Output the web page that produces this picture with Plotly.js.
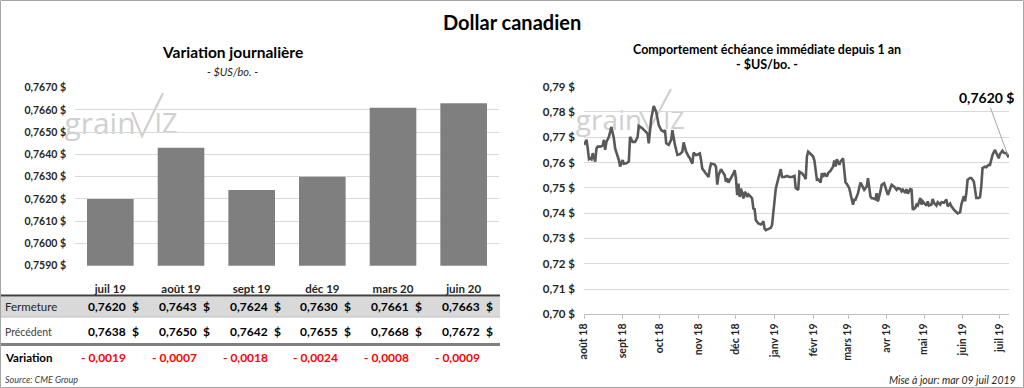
<!DOCTYPE html>
<html><head><meta charset="utf-8">
<script src="https://cdn.plot.ly/plotly-3.0.1.min.js"></script>
<style>html,body{margin:0;padding:0;background:#fff;}#chart{width:1024px;height:388px;}</style>
</head><body><div id="chart"></div>
<script>
// ---------- data ----------
const contracts = ['juil 19','août 19','sept 19','déc 19','mars 20','juin 20'];
const closeValues = [0.7620,0.7643,0.7624,0.7630,0.7661,0.7663];
const previousValues = [0.7638,0.7650,0.7642,0.7655,0.7668,0.7672];
const changeValues = [-0.0019,-0.0007,-0.0018,-0.0024,-0.0008,-0.0009];
const barTickVals = [0.7590,0.7600,0.7610,0.7620,0.7630,0.7640,0.7650,0.7660,0.7670];
const lineTickVals = [0.70,0.71,0.72,0.73,0.74,0.75,0.76,0.77,0.78,0.79];
const rowLabels = ['Fermeture','Précédent','Variation'];

const historyDates = [
'2018-08-01','2018-08-03','2018-08-04','2018-08-05','2018-08-06','2018-08-07','2018-08-08','2018-08-10','2018-08-11','2018-08-12',
'2018-08-14','2018-08-16','2018-08-17','2018-08-18','2018-08-19','2018-08-21','2018-08-23','2018-08-25','2018-08-26','2018-08-29',
'2018-08-30','2018-09-01','2018-09-02','2018-09-04','2018-09-06','2018-09-07','2018-09-09','2018-09-11','2018-09-13','2018-09-14',
'2018-09-17','2018-09-19','2018-09-21','2018-09-22','2018-09-24','2018-09-26','2018-09-28','2018-09-30','2018-10-02','2018-10-04',
'2018-10-05','2018-10-06','2018-10-08','2018-10-10','2018-10-11','2018-10-13','2018-10-15','2018-10-17','2018-10-19','2018-10-20',
'2018-10-22','2018-10-24','2018-10-25','2018-10-27','2018-10-28','2018-10-30','2018-10-31','2018-11-02','2018-11-03','2018-11-04',
'2018-11-06','2018-11-07','2018-11-09','2018-11-10','2018-11-11','2018-11-14','2018-11-15','2018-11-16','2018-11-17','2018-11-19',
'2018-11-20','2018-11-22','2018-11-23','2018-11-24','2018-11-25','2018-11-27','2018-11-29','2018-11-30','2018-12-01','2018-12-02',
'2018-12-03','2018-12-04','2018-12-05','2018-12-06','2018-12-07','2018-12-08','2018-12-09','2018-12-10','2018-12-11','2018-12-13',
'2018-12-14','2018-12-15','2018-12-16','2018-12-17','2018-12-19','2018-12-21','2018-12-22','2018-12-23','2018-12-24','2018-12-25',
'2018-12-27','2018-12-29','2018-12-30','2018-12-31','2019-01-01','2019-01-02','2019-01-04','2019-01-06','2019-01-07','2019-01-09',
'2019-01-11','2019-01-13','2019-01-15','2019-01-17','2019-01-18','2019-01-20','2019-01-21','2019-01-23','2019-01-25','2019-01-26',
'2019-01-27','2019-01-28','2019-01-30','2019-02-01','2019-02-02','2019-02-03','2019-02-04','2019-02-05','2019-02-07','2019-02-08',
'2019-02-09','2019-02-10','2019-02-12','2019-02-13','2019-02-15','2019-02-17','2019-02-18','2019-02-19','2019-02-20','2019-02-22',
'2019-02-23','2019-02-25','2019-02-26','2019-02-27','2019-02-28','2019-03-02','2019-03-04','2019-03-05','2019-03-06','2019-03-07',
'2019-03-09','2019-03-11','2019-03-12','2019-03-13','2019-03-14','2019-03-16','2019-03-17','2019-03-19','2019-03-20','2019-03-21',
'2019-03-23','2019-03-24','2019-03-25','2019-03-27','2019-03-28','2019-03-30','2019-03-31','2019-04-02','2019-04-04','2019-04-05',
'2019-04-07','2019-04-09','2019-04-10','2019-04-12','2019-04-13','2019-04-14','2019-04-16','2019-04-17','2019-04-18','2019-04-20',
'2019-04-21','2019-04-22','2019-04-24','2019-04-25','2019-04-26','2019-04-28','2019-04-29','2019-04-30','2019-05-01','2019-05-03',
'2019-05-04','2019-05-05','2019-05-07','2019-05-08','2019-05-09','2019-05-11','2019-05-12','2019-05-14','2019-05-15','2019-05-17',
'2019-05-19','2019-05-20','2019-05-22','2019-05-23','2019-05-25','2019-05-27','2019-05-28','2019-05-30','2019-05-31','2019-06-02',
'2019-06-03','2019-06-04','2019-06-05','2019-06-07','2019-06-08','2019-06-10','2019-06-11','2019-06-12','2019-06-14','2019-06-15',
'2019-06-16','2019-06-17','2019-06-19','2019-06-20','2019-06-22','2019-06-23','2019-06-25','2019-06-27','2019-06-28','2019-06-30',
'2019-07-01','2019-07-03','2019-07-04','2019-07-06','2019-07-07','2019-07-08'];
const historyValues = [
0.7670,0.7690,0.7656,0.7614,0.7617,0.7613,0.7637,0.7604,0.7656,0.7663,
0.7663,0.7667,0.7690,0.7650,0.7682,0.7702,0.7741,0.7695,0.7656,0.7610,
0.7584,0.7610,0.7595,0.7597,0.7604,0.7702,0.7682,0.7682,0.7700,0.7745,
0.7735,0.7724,0.7715,0.7676,0.7774,0.7824,0.7800,0.7748,0.7728,0.7722,
0.7728,0.7676,0.7670,0.7690,0.7728,0.7670,0.7630,0.7633,0.7643,0.7680,
0.7643,0.7624,0.7617,0.7596,0.7639,0.7629,0.7632,0.7636,0.7609,0.7576,
0.7563,0.7557,0.7543,0.7576,0.7596,0.7592,0.7583,0.7513,0.7550,0.7574,
0.7566,0.7550,0.7524,0.7537,0.7521,0.7537,0.7557,0.7570,0.7537,0.7471,
0.7517,0.7464,0.7497,0.7478,0.7458,0.7484,0.7478,0.7464,0.7474,0.7464,
0.7458,0.7418,0.7416,0.7372,0.7359,0.7355,0.7359,0.7368,0.7339,0.7333,
0.7337,0.7342,0.7353,0.7405,0.7471,0.7497,0.7537,0.7574,0.7543,0.7543,
0.7547,0.7543,0.7543,0.7547,0.7499,0.7492,0.7564,0.7558,0.7545,0.7534,
0.7624,0.7643,0.7634,0.7624,0.7608,0.7558,0.7532,0.7534,0.7521,0.7558,
0.7542,0.7558,0.7545,0.7558,0.7568,0.7584,0.7608,0.7584,0.7613,0.7591,
0.7604,0.7617,0.7568,0.7521,0.7516,0.7499,0.7455,0.7433,0.7453,0.7453,
0.7479,0.7521,0.7512,0.7499,0.7492,0.7505,0.7538,0.7466,0.7459,0.7459,
0.7455,0.7479,0.7446,0.7486,0.7512,0.7518,0.7499,0.7472,0.7499,0.7512,
0.7505,0.7492,0.7499,0.7495,0.7486,0.7493,0.7480,0.7495,0.7477,0.7495,
0.7493,0.7414,0.7421,0.7434,0.7430,0.7460,0.7434,0.7447,0.7441,0.7430,
0.7447,0.7430,0.7434,0.7456,0.7441,0.7430,0.7443,0.7434,0.7443,0.7441,
0.7454,0.7427,0.7438,0.7427,0.7414,0.7404,0.7399,0.7404,0.7434,0.7467,
0.7447,0.7480,0.7532,0.7539,0.7539,0.7525,0.7486,0.7460,0.7460,0.7464,
0.7506,0.7578,0.7584,0.7582,0.7591,0.7591,0.7630,0.7650,0.7639,0.7617,
0.7634,0.7647,0.7639,0.7637,0.7630,0.7620];
const monthTicks = ['2018-08-01','2018-09-01','2018-10-01','2018-11-01','2018-12-01','2019-01-01',
                    '2019-02-01','2019-03-01','2019-04-01','2019-05-01','2019-06-01','2019-07-01'];
const monthLabels = ['août 18','sept 18','oct 18','nov 18','déc 18','janv 19',
                     'févr 19','mars 19','avr 19','mai 19','juin 19','juil 19'];

// ---------- helpers ----------
const W = 1024, H = 388;
const px = v => v / W;
const py = v => 1 - v / H;
const FONT = 'Lato, "Open Sans", sans-serif';
const fmtN = (v, d) => v.toFixed(d).replace('.', ',');
const fmt4 = v => fmtN(v, 4);
const fmtChange = v => (v < 0 ? '- ' : '') + fmt4(Math.abs(v));
const bold = s => '<b>' + s + '</b>';

// ---------- traces ----------
const traces = [
  {type:'bar', x:contracts, y:closeValues, xaxis:'x', yaxis:'y',
   marker:{color:'#7f7f7f'}, hoverinfo:'skip'},
  {type:'scatter', mode:'lines', x:historyDates, y:historyValues, xaxis:'x2', yaxis:'y2',
   line:{color:'#595959', width:2.6}, hoverinfo:'skip'}
];

// ---------- annotations ----------
const ann = [];
const txt = (x, y, text, size, opts) => Object.assign({
  xref:'paper', yref:'paper', x:px(x), y:py(y), text:text, showarrow:false,
  xanchor:'center', yanchor:'middle',
  font:{family:FONT, size:size, color:'#000'}}, opts || {});

ann.push(txt(512, 22, bold('Dollar canadien'), 20));
ann.push(txt(232, 52, bold('Variation journalière'), 15.5));
ann.push(txt(232, 71, '<i>- $US/bo. -</i>', 11, {font:{family:FONT, size:11, color:'#262626'}}));
ann.push(txt(767, 50, bold('Comportement échéance immédiate depuis 1 an'), 12.5));
ann.push(txt(767, 65, bold('- $US/bo. -'), 12.5));

// table
const rowY = [306.7, 331.7, 357.7];
ann.push(txt(3, rowY[0], rowLabels[0], 11.5, {xanchor:'left', font:{family:FONT, size:11.5, color:'#262626'}}));
ann.push(txt(3, rowY[1], rowLabels[1], 10.5, {xanchor:'left', font:{family:FONT, size:10.5, color:'#404040'}}));
ann.push(txt(3, rowY[2], bold(rowLabels[2]), 11.5, {xanchor:'left'}));
const rows = [closeValues, previousValues];
contracts.forEach((c, i) => {
  rows.forEach((arr, r) => {
    ann.push({xref:'x', yref:'paper', x:c, y:py(rowY[r]), xshift:18, xanchor:'right', yanchor:'middle',
      showarrow:false, text:bold(fmt4(arr[i])), font:{family:FONT, size:12, color:'#000'}});
    ann.push({xref:'x', yref:'paper', x:c, y:py(rowY[r]), xshift:20, xanchor:'left', yanchor:'middle',
      showarrow:false, text:bold('$'), font:{family:FONT, size:12, color:'#000'}});
  });
  ann.push({xref:'x', yref:'paper', x:c, y:py(rowY[2]), xshift:18, xanchor:'right', yanchor:'middle',
    showarrow:false, text:bold(fmtChange(changeValues[i])), font:{family:FONT, size:12, color:'#ff0000'}});
});
ann.push(txt(3, 379.5, '<i>Source: CME Group</i>', 9, {xanchor:'left', font:{family:FONT, size:9, color:'#404040'}}));
ann.push(txt(1018, 380, '<i>Mise à jour: mar 09 juil 2019</i>', 10.5, {xanchor:'right', font:{family:FONT, size:10.5, color:'#262626'}}));

// last value label
const lastIdx = historyValues.length - 1;
ann.push({xref:'x2', yref:'y2', x:historyDates[lastIdx], y:historyValues[lastIdx],
  text:bold(fmt4(historyValues[lastIdx]) + ' $'), showarrow:true, arrowhead:0, arrowwidth:1,
  arrowcolor:'#a6a6a6', ax:-22, ay:-60, standoff:3,
  font:{family:FONT, size:14, color:'#000'}});

// ---------- shapes ----------
const shapes = [
  {type:'rect', xref:'paper', yref:'paper', x0:px(0), x1:px(500), y0:py(317), y1:py(296.5),
   fillcolor:'#d9d9d9', line:{width:0}, layer:'below'},
  {type:'line', xref:'paper', yref:'paper', x0:px(0), x1:px(500), y0:py(295.5), y1:py(295.5),
   line:{color:'#404040', width:2}},
  {type:'line', xref:'paper', yref:'paper', x0:px(0), x1:px(500), y0:py(317), y1:py(317),
   line:{color:'#bfbfbf', width:1}},
  {type:'line', xref:'paper', yref:'paper', x0:px(0), x1:px(500), y0:py(344.5), y1:py(344.5),
   line:{color:'#808080', width:3}},
  {type:'rect', xref:'paper', yref:'paper', x0:px(0.5), x1:px(1023.5), y0:py(387.5), y1:py(0.5),
   line:{color:'#a6a6a6', width:1}},
];
const wm = (cx, cy, w, h, text, size) => ({type:'rect', xref:'paper', yref:'paper',
  x0:px(cx - w/2), x1:px(cx + w/2), y0:py(cy + h/2), y1:py(cy - h/2),
  line:{width:0}, fillcolor:'rgba(0,0,0,0)', layer:'below',
  label:{text:text, textposition:'middle center', font:{family:'"Open Sans", sans-serif', size:size, color:'#d0d0d0'}}});
const vPath = pts => ({type:'path', xref:'paper', yref:'paper', layer:'below',
  path:'M ' + pts.map(p => px(p[0]) + ',' + py(p[1])).join(' L '),
  line:{color:'#d0d0d0', width:2.2}});
shapes.push(wm(100, 124, 70, 30, 'grain', 30));
shapes.push(wm(166, 124, 30, 30, 'IZ', 27));
shapes.push(vPath([[132,112],[142,136],[163,93]]));
shapes.push(wm(609, 121, 66, 26, 'grain', 28));
shapes.push(wm(674, 121, 28, 26, 'IZ', 25));
shapes.push(vPath([[640,111],[649,130],[671,89]]));

// ---------- layout ----------
const tickFont = s => ({family:FONT, size:s, color:'#262626'});
const layout = {
  width:W, height:H, margin:{l:0, r:0, t:0, b:0},
  paper_bgcolor:'#fff', plot_bgcolor:'rgba(0,0,0,0)',
  showlegend:false, separators:', ', bargap:0.34,
  font:{family:FONT},
  xaxis:{domain:[px(75), px(499)], type:'category', anchor:'y',
    tickvals:contracts, ticktext:contracts.map(bold),
    tickfont:tickFont(11.5), ticks:'outside', ticklen:12, tickcolor:'rgba(0,0,0,0)',
    showgrid:false, showline:false, zeroline:false, fixedrange:true},
  yaxis:{domain:[py(265.7), py(87.7)], range:[0.7590, 0.7670], anchor:'x',
    tickvals:barTickVals, ticktext:barTickVals.map(v => bold(fmt4(v) + ' $')), tickfont:tickFont(10.5),
    gridcolor:'#d9d9d9', gridwidth:1, zeroline:false, showline:false, ticks:'', ticklabelstandoff:8, fixedrange:true},
  xaxis2:{domain:[px(584), px(1009)], type:'date', anchor:'y2',
    range:['2018-08-01', '2019-07-08 06:00'], tickvals:monthTicks, ticktext:monthLabels.map(bold),
    tickangle:-90, tickfont:tickFont(10.5), ticks:'outside', ticklen:4, tickcolor:'#bfbfbf',
    showline:true, linecolor:'#bfbfbf', linewidth:1, showgrid:false, zeroline:false, fixedrange:true},
  yaxis2:{domain:[py(314.3), py(86.7)], range:[0.70, 0.79], anchor:'x2',
    tickvals:lineTickVals, ticktext:lineTickVals.map(v => bold(fmtN(v, 2) + ' $')), tickfont:tickFont(11.5),
    gridcolor:'#d9d9d9', gridwidth:1, zeroline:false, showline:false, ticks:'', ticklabelstandoff:8, fixedrange:true},
  annotations:ann, shapes:shapes
};
Plotly.newPlot('chart', traces, layout, {staticPlot:true, displayModeBar:false});
</script></body></html>
